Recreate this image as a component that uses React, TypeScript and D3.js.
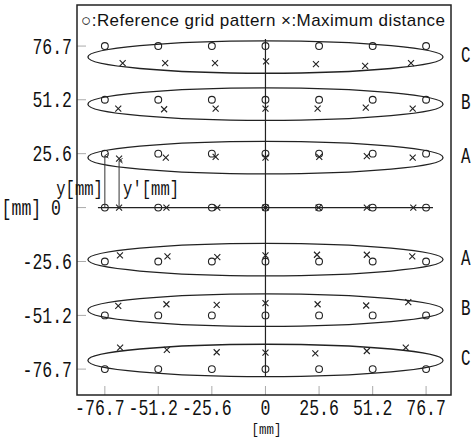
import React from "react";
import * as d3 from "d3";

// reference grid positions (mm)
const gridX = [-76.7, -51.2, -25.6, 0, 25.6, 51.2, 76.7];
const gridY = [76.7, 51.2, 25.6, 0, -25.6, -51.2, -76.7];

// measured maximum-distance points, one row per grid row (x, y in mm)
const crossRowC1 = [[-68.2, 68.6], [-47.9, 68.6], [-24.1, 68.6], [0.3, 69.4], [24.1, 68.1], [47.6, 67.3], [69.5, 68.6]];
const crossRowB1 = [[-70.3, 47.0], [-48.4, 46.7], [-23.8, 47.0], [0, 47.0], [24.9, 47.0], [47.9, 47.5], [70.3, 47.0]];
const crossRowA1 = [[-69.9, 23.2], [-47.6, 23.7], [-23.8, 24.1], [0, 23.7], [25.7, 24.1], [48.4, 24.4], [70.3, 23.7]];
const crossRow0 = [[-69.9, 0], [-47.3, 0], [-23.0, 0], [0, 0], [25.4, 0], [48.4, 0], [70.6, 0]];
const crossRowA2 = [[-69.5, -22.7], [-46.8, -23.2], [-23.0, -23.5], [0, -22.7], [24.6, -22.4], [48.4, -22.4], [70.1, -23.2]];
const crossRowB2 = [[-70.3, -46.7], [-47.3, -45.9], [-23.3, -46.2], [0, -45.4], [24.9, -45.9], [48.1, -46.5], [68.2, -44.9]];
const crossRowC2 = [[-69.4, -66.5], [-47.1, -67.6], [-23.3, -68.7], [0, -68.9], [23.8, -69.2], [48.4, -68.1], [67.0, -66.5]];
const crossRows = [crossRowC1, crossRowB1, crossRowA1, crossRow0, crossRowA2, crossRowB2, crossRowC2];

// group ellipses
const zoneLabels = ["C", "B", "A", "A", "B", "C"];
const zoneCenters = [71.5, 49.1, 23.7, -24.7, -48.7, -72.6];
const zoneRx = 84.8;
const zoneRy = 7.7;

const tickLabels = ["-76.7", "-51.2", "-25.6", "0", "25.6", "51.2", "76.7"];
const yTickLabels = ["76.7", "51.2", "25.6", "0", "-25.6", "-51.2", "-76.7"];

const W = 473;
const H = 437;
const frame = { left: 77, right: 451, top: 5, bottom: 395 };
const numFont = "'Liberation Mono', 'DejaVu Sans Mono', monospace";
const sans = "'Liberation Sans', Arial, sans-serif";

const Narrow: React.FC<{ x: number; y: number; anchor?: string; size?: number; sx?: number; children: React.ReactNode }> = ({ x, y, anchor = "start", size = 22, sx = 0.75, children }) => (
  <text
    transform={`translate(${x},${y}) scale(${sx},1)`}
    textAnchor={anchor as any}
    fontFamily={numFont}
    fontSize={size}
    fill="#111"
  >
    {children}
  </text>
);

export default function App() {
  const x = d3.scaleLinear().domain([-90, 88.6]).range([frame.left, frame.right]);
  const y = d3.scaleLinear().domain([-89, 96.2]).range([frame.bottom, frame.top]);
  const kx = x(1) - x(0);
  const ky = y(0) - y(1);

  const cs = 3; // cross half size
  const axisEnd = 80;

  return (
    <svg width={W} height={H} style={{ position: "absolute", left: 0, top: 0, background: "#fff" }}>
      <defs>
        <marker id="arr" viewBox="0 0 10 10" refX="5" refY="1" markerWidth="6" markerHeight="6" orient="auto-start-reverse">
          <path d="M1,7 L5,1 L9,7" fill="none" stroke="#222" strokeWidth={1.4} />
        </marker>
      </defs>

      {/* tick marks */}
      {gridY.map((v, i) => (
        <line key={"yt" + i} x1={frame.left} x2={frame.left + 9} y1={y(v)} y2={y(v)} stroke="#aaa" strokeWidth={1} />
      ))}
      {gridX.map((v, i) => (
        <line key={"xt" + i} x1={x(v)} x2={x(v)} y1={frame.bottom} y2={frame.bottom - 9} stroke="#aaa" strokeWidth={1} />
      ))}

      {/* frame */}
      <rect x={frame.left} y={frame.top} width={frame.right - frame.left} height={frame.bottom - frame.top} fill="none" stroke="#222" strokeWidth={1.5} />

      {/* legend */}
      <text x={frame.left + 4} y={26} fontFamily={sans} fontSize={17} fill="#111" textLength={364} lengthAdjust="spacing">
        ○:Reference grid pattern  ×:Maximum distance
      </text>

      {/* axes through origin */}
      <line x1={x(0)} x2={x(0)} y1={y(axisEnd)} y2={y(-axisEnd)} stroke="#222" strokeWidth={1.2} />
      <line x1={x(-axisEnd)} x2={x(axisEnd)} y1={y(0)} y2={y(0)} stroke="#222" strokeWidth={1.2} />

      {/* ellipses */}
      {zoneCenters.map((c, i) => (
        <ellipse key={"el" + i} cx={x(0)} cy={y(c)} rx={zoneRx * kx} ry={zoneRy * ky} fill="none" stroke="#222" strokeWidth={1.3} />
      ))}
      {zoneCenters.map((c, i) => (
        <Narrow key={"zl" + i} x={461} y={y(c) + 5} size={22} sx={0.72}>{zoneLabels[i]}</Narrow>
      ))}

      {/* reference grid circles */}
      {gridY.map((gy, j) =>
        gridX.map((gx, i) => (
          <circle key={`c${i}-${j}`} cx={x(gx)} cy={y(gy)} r={3.4} fill="none" stroke="#222" strokeWidth={1.1} />
        ))
      )}

      {/* maximum distance crosses */}
      {crossRows.map((row, j) =>
        row.map(([px, py], i) => (
          <path
            key={`x${i}-${j}`}
            d={`M${x(px) - cs},${y(py) - cs}L${x(px) + cs},${y(py) + cs}M${x(px) - cs},${y(py) + cs}L${x(px) + cs},${y(py) - cs}`}
            stroke="#222"
            strokeWidth={1.1}
          />
        ))
      )}

      {/* y and y' arrows */}
      <line x1={x(gridX[0])} x2={x(gridX[0])} y1={y(0)} y2={y(gridY[2]) + 2} stroke="#333" strokeWidth={1} markerEnd="url(#arr)" />
      <line x1={x(crossRow0[0][0])} x2={x(crossRow0[0][0])} y1={y(0)} y2={y(crossRowA1[0][1]) + 2} stroke="#333" strokeWidth={1} markerEnd="url(#arr)" />
      <Narrow x={x(gridX[0]) - 2} y={195} anchor="end" size={21} sx={0.74}>y[mm]</Narrow>
      <Narrow x={x(crossRow0[0][0]) + 4} y={195} size={21} sx={0.74}>y'[mm]</Narrow>

      {/* y tick labels */}
      {gridY.map((v, i) =>
        v === 0 ? (
          <Narrow key={"yl" + i} x={61} y={y(v) + 7.5} anchor="end">[mm] 0</Narrow>
        ) : (
          <Narrow key={"yl" + i} x={72} y={y(v) + 7.5} anchor="end">{yTickLabels[i]}</Narrow>
        )
      )}

      {/* x tick labels */}
      {gridX.map((v, i) => (
        <Narrow key={"xl" + i} x={x(v) + (v < 0 ? -5 : 0)} y={415} anchor="middle">{tickLabels[i]}</Narrow>
      ))}
      <Narrow x={x(0) + 1} y={434} anchor="middle" size={15.5} sx={0.8}>[mm]</Narrow>
    </svg>
  );
}
